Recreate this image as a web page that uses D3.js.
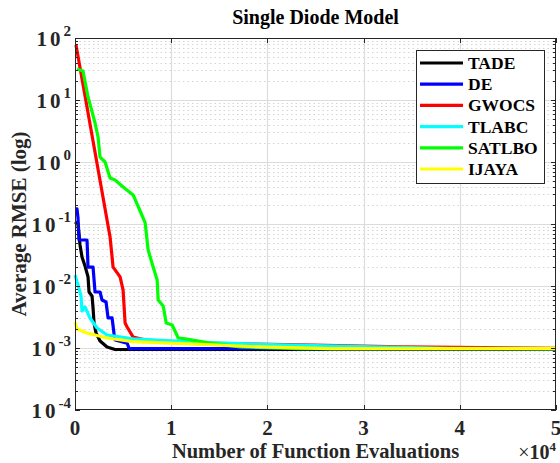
<!DOCTYPE html>
<html>
<head>
<meta charset="utf-8">
<script src="https://cdn.jsdelivr.net/npm/d3@7"></script>
<style>
  html, body { margin: 0; padding: 0; background: #fff; }
  svg { display: block; font-family: "Liberation Serif", "Times New Roman", serif; font-weight: bold; }
</style>
</head>
<body>
<div id="chart"></div>
<script>
// Convergence of average RMSE, single diode model
const seriesNames  = ["TADE", "DE", "GWOCS", "TLABC", "SATLBO", "IJAYA"];
const seriesColors = ["#000000", "#0000ff", "#ff0000", "#00ffff", "#00ff00", "#ffff00"];

// [function evaluations, average RMSE]
const tade = [[0, 0.108], [313, 0.100], [521, 0.0458], [729, 0.0294], [1042, 0.0210], [1354, 0.0140],
  [1458, 0.0080], [1771, 0.0069], [1875, 0.00442], [1979, 0.00253], [2188, 0.00175], [2604, 0.00130],
  [3333, 0.00104], [4167, 0.000946], [50000, 0.000946]];
const de = [[0, 0.175], [208, 0.175], [313, 0.125], [417, 0.0552], [1250, 0.0552], [1354, 0.0202],
  [1875, 0.0202], [2083, 0.0080], [2604, 0.0080], [2813, 0.00594], [3229, 0.00552], [3438, 0.00305],
  [3854, 0.00305], [4063, 0.00168], [4167, 0.00135], [5417, 0.00120], [5625, 0.00098], [50000, 0.00098]];
const gwocs = [[104, 77], [3646, 0.0617], [3958, 0.0202], [4688, 0.0140], [5000, 0.0086], [5208, 0.00253],
  [5417, 0.00218], [6042, 0.00150], [7813, 0.00130], [13021, 0.00120], [23438, 0.00112],
  [33854, 0.00104], [50000, 0.00099]];
const tlabc = [[0, 0.01503], [313, 0.01038], [625, 0.0069], [729, 0.00395], [1042, 0.00458], [1563, 0.00305],
  [2292, 0.0021], [3333, 0.00162], [6042, 0.0014], [13021, 0.00123], [21354, 0.00112], [31042, 0.00104],
  [38750, 0.00099], [50000, 0.00098]];
const satlbo = [[208, 31.6], [833, 29.4], [1354, 11.2], [2083, 4.26], [2396, 2.53], [2604, 1.20], [3125, 1.00],
  [3646, 0.552], [4167, 0.513], [5000, 0.395], [6042, 0.294], [6771, 0.162], [7292, 0.104], [7604, 0.0381],
  [8125, 0.0202], [8542, 0.0125], [8646, 0.00594], [9167, 0.00475], [9479, 0.00253], [10104, 0.00235],
  [10729, 0.00145], [11458, 0.00140], [14063, 0.00120], [17188, 0.00104], [23438, 0.00098], [50000, 0.00098]];
const ijaya = [[0, 0.00262], [208, 0.00202], [1250, 0.00175], [3333, 0.00145], [6042, 0.00127],
  [13021, 0.00114], [19271, 0.00104], [26563, 0.00098], [50000, 0.00098]];

const allSeries = [tade, de, gwocs, tlabc, satlbo, ijaya];

const xTicks      = [0, 10000, 20000, 30000, 40000, 50000];
const xTickLabels = ["0", "1", "2", "3", "4", "5"];
const yTickExps   = [-4, -3, -2, -1, 0, 1, 2];

const W = 560, H = 463;
const margin = { left: 75, right: 4, top: 38, bottom: 53 };
const axisColor = "#262626";

const svg = d3.select("#chart").append("svg")
  .attr("width", W).attr("height", H);

const x = d3.scaleLinear().domain([0, 50000]).range([margin.left, W - margin.right]);
const y = d3.scaleLog().domain([1e-4, 1e2]).range([H - margin.bottom, margin.top]);
const [x0, x1] = x.range();
const [y0, y1] = y.range();

// minor grid (dotted) for log axis
const minorVals = [];
yTickExps.slice(0, -1).forEach(e => {
  for (let k = 2; k <= 9; k++) minorVals.push(k * Math.pow(10, e));
});
svg.append("g").selectAll("line").data(minorVals).join("line")
  .attr("x1", x0).attr("x2", x1)
  .attr("y1", d => Math.round(y(d)) + 0.5).attr("y2", d => Math.round(y(d)) + 0.5)
  .attr("stroke", "#d4d4d4").attr("stroke-width", 1)
  .attr("stroke-dasharray", "1.5,3");

// major grid
svg.append("g").selectAll("line").data(yTickExps.slice(1, -1)).join("line")
  .attr("x1", x0).attr("x2", x1)
  .attr("y1", d => Math.round(y(Math.pow(10, d))) + 0.5).attr("y2", d => Math.round(y(Math.pow(10, d))) + 0.5)
  .attr("stroke", "#dcdcdc").attr("stroke-width", 1.2);
svg.append("g").selectAll("line").data(xTicks.slice(1, -1)).join("line")
  .attr("x1", d => Math.round(x(d)) + 0.5).attr("x2", d => Math.round(x(d)) + 0.5)
  .attr("y1", y1).attr("y2", y0)
  .attr("stroke", "#dcdcdc").attr("stroke-width", 1.2);

// curves
const line = d3.line().x(d => x(d[0])).y(d => y(d[1]));
svg.append("g").selectAll("path").data(allSeries).join("path")
  .attr("d", line)
  .attr("fill", "none")
  .attr("stroke", (d, i) => seriesColors[i])
  .attr("stroke-width", 3.2)
  .attr("stroke-linejoin", "round");

// box
svg.append("rect")
  .attr("x", x0 + 0.5).attr("y", y1 + 0.5)
  .attr("width", x1 - x0 - 1).attr("height", y0 - y1 - 1)
  .attr("fill", "none").attr("stroke", axisColor).attr("stroke-width", 1);

// ticks, inward on all four sides
const tickG = svg.append("g").attr("stroke", axisColor).attr("stroke-width", 1);
xTicks.forEach(v => {
  const px = Math.round(x(v)) + 0.5;
  tickG.append("line").attr("x1", px).attr("x2", px).attr("y1", y0).attr("y2", y0 - 5);
  tickG.append("line").attr("x1", px).attr("x2", px).attr("y1", y1).attr("y2", y1 + 5);
});
yTickExps.forEach(e => {
  const py = Math.round(y(Math.pow(10, e))) + 0.5;
  tickG.append("line").attr("x1", x0).attr("x2", x0 + 5).attr("y1", py).attr("y2", py);
  tickG.append("line").attr("x1", x1).attr("x2", x1 - 5).attr("y1", py).attr("y2", py);
});
minorVals.forEach(v => {
  const py = Math.round(y(v)) + 0.5;
  tickG.append("line").attr("x1", x0).attr("x2", x0 + 3).attr("y1", py).attr("y2", py);
  tickG.append("line").attr("x1", x1).attr("x2", x1 - 3).attr("y1", py).attr("y2", py);
});

// x tick labels
svg.append("g").selectAll("text").data(xTicks).join("text")
  .attr("x", d => x(d)).attr("y", y0 + 25)
  .attr("text-anchor", "middle")
  .attr("font-size", 21).attr("fill", axisColor)
  .text((d, i) => xTickLabels[i]);

// y tick labels 10^k
const yl = svg.append("g").selectAll("text").data(yTickExps).join("text")
  .attr("x", x0 - 4).attr("y", d => y(Math.pow(10, d)) + 8)
  .attr("text-anchor", "end")
  .attr("font-size", 21).attr("fill", axisColor);
yl.append("tspan").attr("letter-spacing", 3).text("10");
yl.append("tspan").attr("dy", -10).attr("font-size", 15).text(d => String(d));

// x multiplier
const mult = svg.append("text")
  .attr("x", x1).attr("y", H - 4)
  .attr("text-anchor", "end")
  .attr("font-size", 20).attr("fill", axisColor);
mult.append("tspan").attr("font-weight", "normal").text("\u00d7");
mult.append("tspan").text("10");
mult.append("tspan").attr("dy", -8).attr("font-size", 13).text("4");

// axis labels and title
svg.append("text")
  .attr("x", (x0 + x1) / 2).attr("y", H - 5)
  .attr("text-anchor", "middle").attr("font-size", 20.5).attr("fill", axisColor)
  .text("Number of Function Evaluations");

svg.append("text")
  .attr("transform", `translate(26,${(y0 + y1) / 2}) rotate(-90)`)
  .attr("text-anchor", "middle").attr("font-size", 21).attr("fill", axisColor)
  .text("Average RMSE (log)");

svg.append("text")
  .attr("x", (x0 + x1) / 2).attr("y", 24)
  .attr("text-anchor", "middle").attr("font-size", 20).attr("fill", "#000")
  .text("Single Diode Model");

// legend
const lg = svg.append("g").attr("transform", "translate(416,50)");
lg.append("rect")
  .attr("x", 0.5).attr("y", 0.5).attr("width", 128).attr("height", 133)
  .attr("fill", "#fff").attr("stroke", axisColor).attr("stroke-width", 1);
const item = lg.selectAll("g.item").data(seriesNames).join("g")
  .attr("class", "item")
  .attr("transform", (d, i) => `translate(0,${13 + i * 21.2})`);
item.append("line")
  .attr("x1", 4).attr("x2", 47).attr("y1", 0).attr("y2", 0)
  .attr("stroke", (d, i) => seriesColors[i]).attr("stroke-width", 3.2);
item.append("text")
  .attr("x", 52).attr("y", 6)
  .attr("font-size", 17.5).attr("fill", "#000")
  .text(d => d);
</script>
</body>
</html>
